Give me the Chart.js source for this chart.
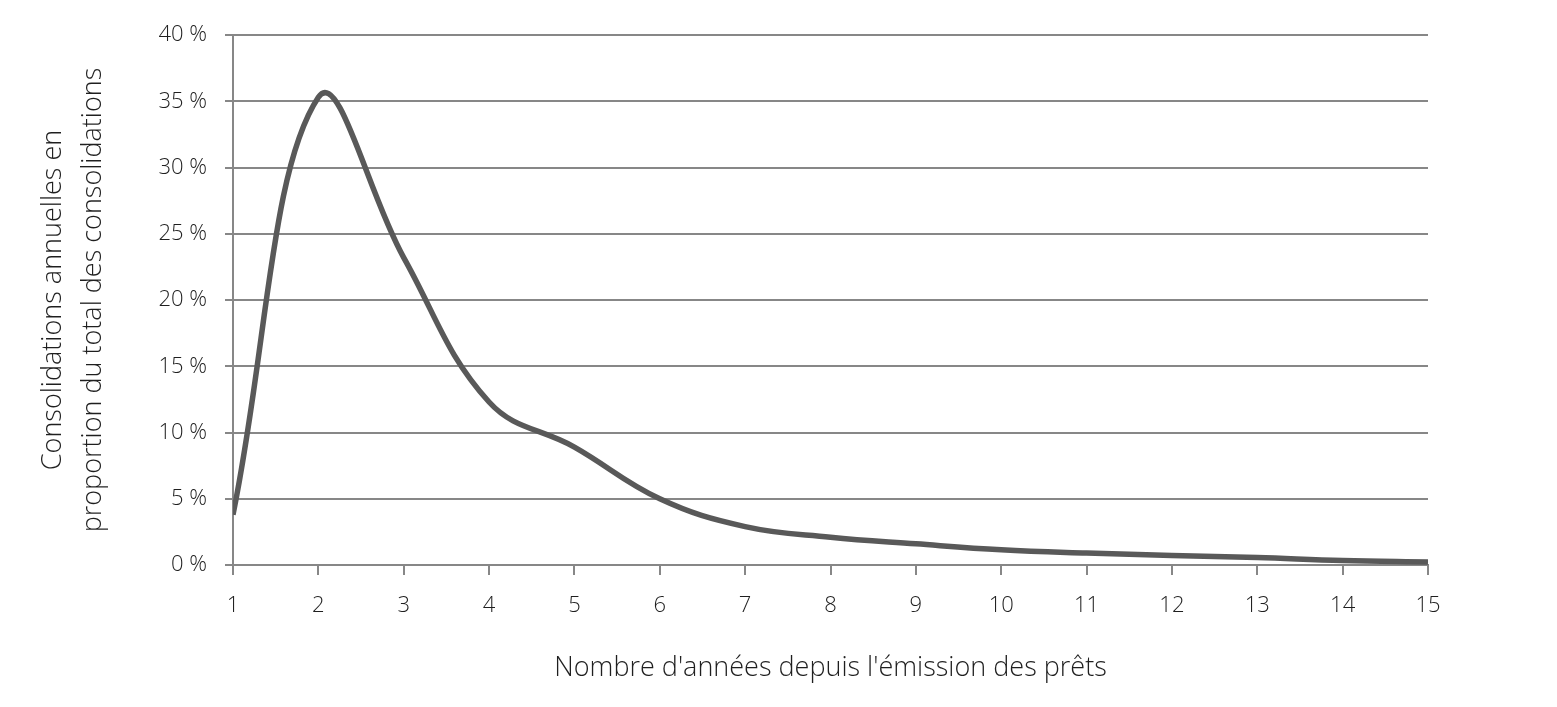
<!DOCTYPE html>
<html>
<head>
<meta charset="utf-8">
<script src="https://cdn.jsdelivr.net/npm/chart.js@4.4.1/dist/chart.umd.min.js"></script>
<style>
  html, body { margin: 0; padding: 0; background: #fff; }
  #wrap { width: 1557px; height: 707px; }
</style>
</head>
<body>
<div id="wrap"><canvas id="chart" width="1557" height="707"></canvas></div>
<script>
// années depuis l'émission (axe x)
const years = [1, 2, 3, 4, 5, 6, 7, 8, 9, 10, 11, 12, 13, 14, 15]
// consolidations annuelles en % du total
const consolidations = [3.8, 35.3, 23.2, 12.3, 8.9, 5.0, 2.9, 2.1, 1.6, 1.15, 0.9, 0.72, 0.56, 0.34, 0.23]

const yTitle = ['Consolidations annuelles en', 'proportion du total des consolidations']
const xTitle = "Nombre d'années depuis l'émission des prêts"

const gridColor = '#878787'
const textColor = '#1f1f1f'
const fontFamily = "'Open Sans', 'DejaVu Sans', sans-serif"

Chart.defaults.font.family = fontFamily
Chart.defaults.color = textColor

const points = years.map((x, i) => ({ x: x, y: consolidations[i] }))

new Chart(document.getElementById('chart').getContext('2d'), {
  type: 'line',
  data: {
    datasets: [{
      data: points,
      borderColor: '#595959',
      borderWidth: 5.5,
      pointRadius: 0,
      fill: false,
      tension: 0.4,
      borderCapStyle: 'butt'
    }]
  },
  options: {
    responsive: false,
    animation: false,
    layout: { padding: { top: 35, right: 129, left: 0, bottom: 0 } },
    plugins: {
      legend: { display: false },
      tooltip: { enabled: false }
    },
    scales: {
      x: {
        type: 'linear',
        min: 1,
        max: 15,
        afterFit: (scale) => { scale.height = 142 },
        ticks: {
          stepSize: 1,
          padding: 18,
          font: { size: 22, weight: 300 },
          color: textColor
        },
        grid: {
          drawOnChartArea: false,
          drawTicks: true,
          tickLength: 10,
          color: gridColor,
          lineWidth: 2
        },
        border: { display: true, color: gridColor, width: 2 },
        title: {
          display: true,
          text: xTitle,
          font: { size: 27, weight: 300 },
          color: textColor,
          padding: { top: 0, bottom: 22 }
        }
      },
      y: {
        min: 0,
        max: 40,
        afterFit: (scale) => { scale.width = 233 },
        ticks: {
          stepSize: 5,
          padding: 18,
          font: { size: 22, weight: 300 },
          color: textColor,
          callback: (v) => v + ' %'
        },
        grid: {
          color: gridColor,
          lineWidth: 2,
          tickLength: 8
        },
        border: { display: true, color: gridColor, width: 2 },
        title: {
          display: true,
          text: yTitle,
          font: { size: 27, weight: 300, lineHeight: 1.5 },
          color: textColor,
          padding: { top: 33, bottom: 0 }
        }
      }
    }
  }
})
</script>
</body>
</html>
